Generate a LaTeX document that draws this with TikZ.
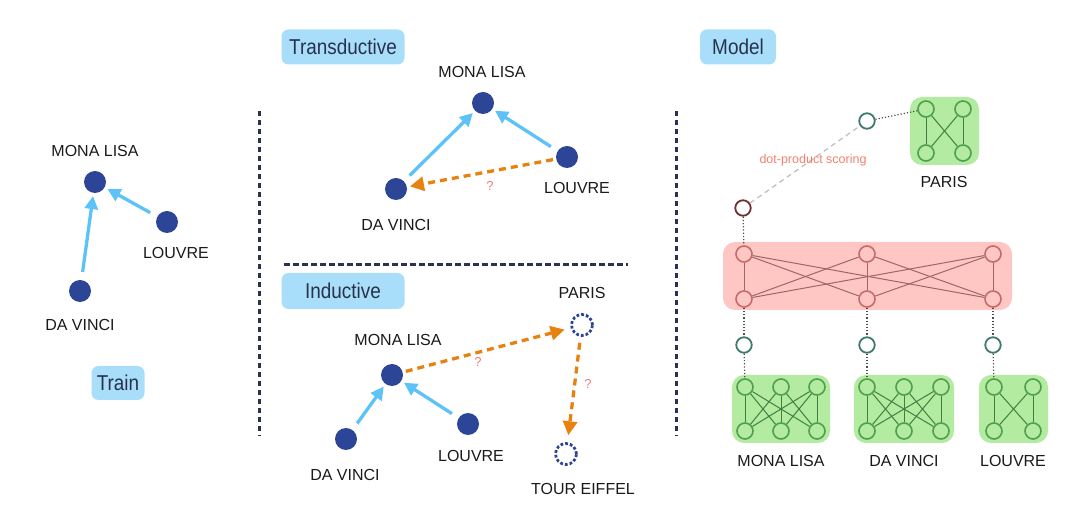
\documentclass[tikz,border=0pt]{standalone}
\usepackage{fontspec}
\setmainfont{Liberation Sans}
\newfontfamily\tagfamily[FakeStretch=0.88]{Liberation Sans}
\usetikzlibrary{arrows.meta}
\definecolor{navy}{HTML}{2C4597}
\definecolor{relblue}{HTML}{5CC2F7}
\definecolor{qorange}{HTML}{E8810E}
\definecolor{qred}{HTML}{F27B7B}
\definecolor{tagblue}{HTML}{A9DEFB}
\definecolor{tagtxt}{HTML}{26324A}
\definecolor{sepcol}{HTML}{2B3150}
\definecolor{gfill}{HTML}{B3EBA0}
\definecolor{gline}{HTML}{4F9E52}
\definecolor{gedge}{HTML}{3F7F40}
\definecolor{rfill}{HTML}{FFC7C4}
\definecolor{rline}{HTML}{C66B6B}
\definecolor{redge}{HTML}{A06666}
\definecolor{teal}{HTML}{3F7A6E}
\definecolor{dred}{HTML}{6E3030}
\definecolor{scorecol}{HTML}{F47F70}
\definecolor{txt}{HTML}{1A1A1A}
\tikzset{
  ent/.style={circle, fill=navy, minimum size=22pt, inner sep=0pt},
  ghost/.style={circle, draw=navy, dotted, line width=2.8pt, minimum size=21pt, inner sep=0pt},
  lbl/.style={font=\fontsize{16}{18}\selectfont, text=txt, inner sep=0pt},
  tag/.style={rounded corners=7pt, fill=tagblue, text=tagtxt, font=\tagfamily\fontsize{21.5}{24}\selectfont, inner sep=0pt},
  rel/.style={draw=relblue, line width=3.3pt, -{Triangle[length=13pt,width=13pt]}, shorten <=8pt, shorten >=3pt},
  query/.style={draw=qorange, line width=3.3pt, dash pattern=on 7pt off 5pt, -{Triangle[length=14pt,width=14pt]}, shorten <=3pt, shorten >=3pt},
  qmark/.style={text=qred, font=\fontsize{13}{15}\selectfont, inner sep=0pt},
  sep/.style={draw=sepcol, line width=3pt, dash pattern=on 5.5pt off 3.5pt},
  gbox/.style={fill=gfill, rounded corners=12pt},
  rbox/.style={fill=rfill, rounded corners=12pt},
  gc/.style={circle, draw=gline, line width=1.6pt, minimum size=16pt, inner sep=0pt},
  rc/.style={circle, draw=rline, line width=1.6pt, minimum size=16pt, inner sep=0pt},
  ge/.style={draw=gedge, line width=1pt},
  re/.style={draw=redge, line width=1pt},
  emb/.style={circle, draw=teal, line width=1.8pt, minimum size=15.5pt, inner sep=0pt, fill=white},
  qemb/.style={circle, draw=dred, line width=1.8pt, minimum size=15.5pt, inner sep=0pt, fill=white},
  link/.style={draw=black!70, line width=1.2pt, dotted},
  score/.style={draw=black!25, line width=1.3pt, dash pattern=on 5pt off 4pt},
}
\begin{document}
\begin{tikzpicture}[x=1pt,y=-1pt]
\useasboundingbox (0,0) rectangle (1080,510);

% ---------- Train panel ----------
\node[ent] (aml) at (95,182) {};
\node[ent] (alv) at (167,222) {};
\node[ent] (adv) at (80,291) {};
\node[lbl] (amlL) at (95,151) {MONA LISA};
\node[lbl] (alvL) at (176,253) {LOUVRE};
\node[lbl] (advL) at (80,325) {DA VINCI};
\draw[rel] (adv) -- (aml);
\draw[rel] (alv) -- (aml);
\node[tag, minimum width=53pt, minimum height=34pt] (train) at (118,383) {Train};

% ---------- separators ----------
\coordinate (s1a) at (259,111); \coordinate (s1b) at (259,436);
\coordinate (s2a) at (676,111); \coordinate (s2b) at (676,436);
\coordinate (s3a) at (284,265); \coordinate (s3b) at (628,265);
\draw[sep] (s1a) -- (s1b);
\draw[sep] (s2a) -- (s2b);
\draw[sep] (s3a) -- (s3b);

% ---------- Transductive ----------
\node[tag, minimum width=123pt, minimum height=35pt] (trans) at (343,47) {Transductive};
\node[ent] (bml) at (483,103) {};
\node[ent] (blv) at (567,157) {};
\node[ent] (bdv) at (396,189) {};
\node[lbl] (bmlL) at (482,72) {MONA LISA};
\node[lbl] (blvL) at (577,188) {LOUVRE};
\node[lbl] (bdvL) at (396,225) {DA VINCI};
\draw[rel] (bdv) -- (bml);
\draw[rel] (blv) -- (bml);
\draw[query] (blv) -- (bdv);
\node[qmark] (bq) at (490,186) {?};

% ---------- Inductive ----------
\node[tag, minimum width=123pt, minimum height=36pt] (induc) at (343,291) {Inductive};
\node[ent] (cml) at (392,375) {};
\node[ent] (cdv) at (346,439) {};
\node[ent] (clv) at (468,424) {};
\node[ghost] (cpa) at (582,325) {};
\node[ghost] (cte) at (566,454) {};
\node[lbl] (cmlL) at (398,340) {MONA LISA};
\node[lbl] (cdvL) at (345,475) {DA VINCI};
\node[lbl] (clvL) at (471,456) {LOUVRE};
\node[lbl] (cpaL) at (582,293) {PARIS};
\node[lbl] (cteL) at (583,489) {TOUR EIFFEL};
\draw[rel] (cdv) -- (cml);
\draw[rel] (clv) -- (cml);
\draw[query, shorten >=6pt] (cml) -- (cpa);
\draw[query, shorten <=6pt, shorten >=7pt] (cpa) -- (cte);
\node[qmark] (cq1) at (478,362) {?};
\node[qmark] (cq2) at (588,384) {?};

% ---------- Model ----------
\node[tag, minimum width=76pt, minimum height=35pt] (model) at (738,47) {Model};

% PARIS encoder
\fill[gbox] (910,97) rectangle (979,165);
\node[gc] (p1) at (926,109) {};
\node[gc] (p2) at (963,109) {};
\node[gc] (p3) at (926,153) {};
\node[gc] (p4) at (963,153) {};
\draw[ge] (p1) -- (p3); \draw[ge] (p2) -- (p4);
\draw[ge] (p1) -- (p4); \draw[ge] (p2) -- (p3);
\node[lbl] (pL) at (944,182) {PARIS};

% scoring
\node[emb] (pe) at (867,121) {};
\node[qemb] (qe) at (743,208) {};
\draw[link] (pe) -- (p1);
\draw[score] (qe) -- (pe);
\node[text=scorecol, font=\fontsize{12.5}{14}\selectfont, inner sep=0pt] (scL) at (813,160) {dot-product scoring};

% relation / aggregation layer
\fill[rbox] (723,242) rectangle (1012,310);
\foreach \i/\x in {1/744,2/867,3/993}{
  \node[rc] (rt\i) at (\x,254) {};
  \node[rc] (rb\i) at (\x,299) {};
}
\foreach \i in {1,2,3}{
  \foreach \j in {1,2,3}{
    \draw[re] (rt\i) -- (rb\j);
  }
}
\draw[link] (qe) -- (rt1);

% entity embeddings
\node[emb] (e1) at (744,345) {};
\node[emb] (e2) at (867,345) {};
\node[emb] (e3) at (993,345) {};
\draw[link] (rb1) -- (e1);
\draw[link] (rb2) -- (e2);
\draw[link] (rb3) -- (e3);

% MONA LISA encoder
\fill[gbox] (732,375) rectangle (830,443);
\foreach \i/\x in {1/745,2/781,3/817}{
  \node[gc] (mt\i) at (\x,387) {};
  \node[gc] (mb\i) at (\x,431) {};
}
\foreach \i in {1,2,3}{\foreach \j in {1,2,3}{\draw[ge] (mt\i) -- (mb\j);}}
\node[lbl] (mL) at (781,461) {MONA LISA};

% DA VINCI encoder
\fill[gbox] (854,375) rectangle (954,443);
\foreach \i/\x in {1/867,2/904,3/941}{
  \node[gc] (dt\i) at (\x,387) {};
  \node[gc] (db\i) at (\x,431) {};
}
\foreach \i in {1,2,3}{\foreach \j in {1,2,3}{\draw[ge] (dt\i) -- (db\j);}}
\node[lbl] (dL) at (904,461) {DA VINCI};

% LOUVRE encoder
\fill[gbox] (979,375) rectangle (1048,443);
\node[gc] (l1) at (994,387) {};
\node[gc] (l2) at (1033,387) {};
\node[gc] (l3) at (994,431) {};
\node[gc] (l4) at (1033,431) {};
\draw[ge] (l1) -- (l3); \draw[ge] (l2) -- (l4);
\draw[ge] (l1) -- (l4); \draw[ge] (l2) -- (l3);
\node[lbl] (lL) at (1013,461) {LOUVRE};

\draw[link] (e1) -- (mt1);
\draw[link] (e2) -- (dt1);
\draw[link] (e3) -- (l1);
\end{tikzpicture}
\end{document}
